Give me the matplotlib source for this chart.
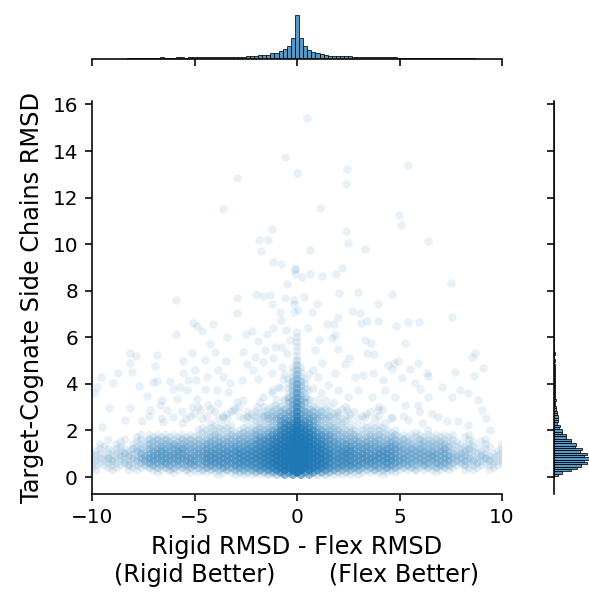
import numpy as np
import matplotlib
matplotlib.use("Agg")
import matplotlib.pyplot as plt
from matplotlib.colors import to_rgba

# dense band near the bottom: number of points per cell, one base-36 digit per cell
# even rows: y = 0.2 .. 3.0, cells at x = -10.0, -9.6, ..., 10.0
# odd rows : y = 0.1 .. 2.9, cells at x = -9.8, -9.4, ..., 9.8
# (cells at |x| <= 0.4 are zero here, they are listed in the centre columns below)
even_y = [0.2, 0.4, 0.6, 0.8, 1.0, 1.2, 1.4, 1.6, 1.8, 2.0, 2.2, 2.4, 2.6, 2.8, 3.0]
odd_y = [0.1, 0.3, 0.5, 0.7, 0.9, 1.1, 1.3, 1.5, 1.7, 1.9, 2.1, 2.3, 2.5, 2.7, 2.9]
even_x = np.linspace(-10.0, 10.0, 51)
odd_x = np.linspace(-9.8, 9.8, 50)

even_rows = [
    "0000000010 1011111122 3347 000 6432211111 10000100000000",
    "1011011222 2222334344 569c 000 b965443334 32212221011010",
    "1111212334 3343555566 68be 000 ca75655545 43333332212111",
    "1121123444 4443555566 78be 000 ca76655555 44333332221211",
    "1111213344 4434555566 68be 000 ca75655455 43333332211111",
    "0111122333 3433444455 67ad 000 b965544444 43332231121101",
    "0101011222 3222333334 568c 000 a854433333 32222221110101",
    "0010101222 1222222233 457a 000 9643332222 22121111010100",
    "0000001111 1111121222 3358 000 7542221221 21111111010000",
    "0000000000 0001111111 2237 000 6322111111 10001000000000",
    "0000000000 0000011101 1125 000 4221111110 00000000000000",
    "0000000000 0000000000 1124 000 3111100000 00000000000000",
    "0000000100 0010101011 1223 000 3221101010 01000000000000",
    "0000000000 0100010101 1122 000 2211010100 00010000000000",
    "0000000000 0001000010 0112 000 2110100010 00000000000000",
]
odd_rows = [
    "0000000000 0000010111 1237 00 6221111001 00000000000000",
    "1010110112 1212223333 569d 00 c854333232 21121111011010",
    "1111212333 3343444556 79dh 00 gc85665444 43323232121111",
    "1121123444 4444555566 79dh 00 gc85665555 54333333222121",
    "1112213444 4444555566 79dh 00 gc85665555 53333433221211",
    "1011121343 4333445556 79dh 00 gb75664445 43333332121101",
    "0101011233 3333343444 67bf 00 ea64454433 43222222111010",
    "0001011222 2222333333 569d 00 c854333332 32212221101100",
    "0000010111 1111222222 457c 00 b643222222 21111111010000",
    "0000000000 0001111122 2359 00 9432221111 10010000000000",
    "0000000000 0001111011 2237 00 6322110111 00000000000000",
    "0000000000 0000100000 1116 00 5211100000 00000000000000",
    "0000000010 0101011011 1234 00 4321111010 10000000000000",
    "0000000000 0010001001 1123 00 3211010100 00000100000000",
    "0000000000 0000100100 0112 00 2110100001 00000000000000",
]

# centre columns (x = 0 and +-0.4 on even rows, x = +-0.2 on odd rows), incl. the streak
zero_y = [0.2, 0.4, 0.6, 0.8, 1.0, 1.2, 1.4, 1.6, 1.8, 2.0, 2.2, 2.4, 2.6, 2.8, 3.0, 3.2,
          3.4, 3.6, 3.8, 4.0, 4.2, 4.4, 4.6, 4.8, 5.0, 5.2, 5.4, 5.6, 5.8, 6.0, 6.2]
zero_n = [25, 70, 100, 110, 105, 85, 62, 45, 33, 24, 17, 12, 10, 8, 7, 6,
          5, 5, 4, 4, 3, 3, 2, 2, 2, 1, 1, 1, 1, 1, 1]
four_n = [6, 18, 27, 30, 28, 24, 19, 15, 12, 9, 7, 5, 3, 3, 2, 2,
          2, 1, 1, 1, 1, 0, 0, 0, 0, 0, 0, 0, 0, 0, 0]
two_y = [0.1, 0.3, 0.5, 0.7, 0.9, 1.1, 1.3, 1.5, 1.7, 1.9, 2.1, 2.3, 2.5, 2.7,
         2.9, 3.1, 3.3, 3.5, 3.7, 3.9, 4.1, 4.3, 4.5, 4.7]
two_n = [8, 30, 45, 50, 50, 42, 32, 24, 18, 13, 10, 7, 4, 4,
         3, 3, 3, 2, 2, 2, 2, 1, 1, 1]

# wings of the V above the band
wing_x = [-1.0, -0.6, 0.6, 1.0, -0.8, 0.8, -0.6, 0.6, -1.8, 1.8, -1.2, 1.2]
wing_y = [3.3, 3.3, 3.3, 3.3, 3.8, 3.8, 4.4, 4.4, 3.2, 3.2, 3.6, 3.6]
wing_n = [1, 2, 2, 1, 1, 1, 1, 1, 1, 1, 1, 1]

# single scattered points
out_x = [-0.57, -0.02, -2.91, -3.62, -1.23, -1.84, -1.4, -1.77, -1.19, -0.8, -0.08, -0.08,
         -0.11, -0.5, -2.0, -1.67, -1.32, -2.94, -5.9, -0.59, -0.15,
         0.47, 2.45, 5.4, 2.39, 1.12, 4.98, 5.06, 2.37, 2.5, 3.3, 6.37, 0.62, 0.23, 0.63,
         1.2, 1.89, 2.2, 7.51, 0.36, 2.05, 2.96, 4.65,
         -1.24, -2.94, -5.09, -4.86, -4.11, -4.65, -5.9, -3.4, -2.49, -2.21, -1.89, -1.48,
         -1.16, -0.8, -0.54, -0.34, -0.75, -0.15, -0.15, -0.83, -8.15, -7.85, -8.15, -8.07,
         -6.85, -6.93, -8.72, -9.56, -8.99, -9.77, -9.9, -9.53, -9.15, -8.15, -7.69, -7.33,
         -7.04, -6.85, -6.6, -6.2, -6.07, -5.84, -5.71, -5.58, -5.58, -5.3, -5.38, -5.14,
         -4.98, -4.93, -4.86, -4.49, -4.41, -4.49, -4.24, -4.0, -3.84, -3.92, -3.59, -3.46,
         -3.35, -3.27, -2.94, -2.7, -2.62, -2.46, -2.13, -2.05, -1.89, -1.64, -1.56, -1.24,
         -1.07, -1.19, -0.75, -0.67, -0.91, -0.5, -7.58, -8.39, -7.17, -6.68, -6.36, -6.03,
         -5.14, -4.73, -4.33, -3.84, -3.59, -3.11, -2.62, -2.46, -1.97, -1.64, -1.24, -1.48,
         -1.07, -5.63, -6.52,
         0.96, 0.71, 0.03, 3.97, 2.67, 3.07, 3.4, 3.11, 3.97, 4.81, 5.43, 5.95, 7.58, 2.02,
         1.82, 0.55, 1.07, 1.69, 2.02, 3.32, 3.61, 3.4, 3.77, 5.27, 2.54, 2.34, 3.24, 3.72,
         4.45, 4.75, 4.94, 4.62, 5.92, 5.51, 6.33, 6.41, 7.71, 8.68, 8.52, 9.09, 8.65, 4.21,
         5.1, 5.76, 6.0, 7.06, 7.54, 7.95, 8.36, 8.81, 9.01, 7.87, 7.3, 9.2, 1.53, 2.02,
         2.99, 2.5, 3.64, 4.29, 4.78, 5.27, 5.92, 6.41, 6.89, 2.42, 3.32, 3.97, 4.62, 1.85,
         1.45, 0.88, 1.2, 1.85, 1.04, 1.37, 1.93, 0.55, 0.8, 2.83, 4.29, 5.43, 6.08, 8.36, 9.41]
out_y = [13.74, 13.06, 12.84, 11.49, 10.64, 10.2, 10.2, 9.71, 9.25, 9.17, 8.95, 8.95,
         8.71, 8.28, 7.88, 7.76, 7.8, 7.67, 7.6, 7.67, 7.6,
         15.41, 13.21, 13.41, 12.57, 11.55, 11.25, 10.84, 10.55, 10.07, 9.8, 10.14, 9.75, 8.6, 8.7,
         8.62, 8.74, 8.98, 8.34, 7.73, 7.91, 7.95, 7.88,
         7.45, 7.05, 6.62, 6.48, 6.59, 6.28, 6.16, 6.02, 6.13, 6.28, 5.85, 6.16,
         6.38, 6.74, 6.31, 5.88, 5.59, 7.45, 7.09, 7.09, 5.31, 5.2, 4.9, 4.52,
         5.23, 4.76, 4.48, 4.3, 4.02, 3.87, 3.59, 2.16, 2.95, 2.95, 3.9, 3.47,
         4.07, 4.13, 3.3, 4.13, 3.76, 3.37, 3.87, 4.48, 4.99, 4.16, 3.73, 5.31,
         4.59, 4.16, 3.33, 5.02, 4.3, 3.8, 5.73, 5.38, 4.59, 3.73, 4.3, 4.99,
         3.66, 4.02, 3.23, 4.16, 5.38, 4.85, 4.59, 5.16, 4.23, 4.95, 5.45, 4.45,
         5.59, 5.09, 4.73, 4.23, 3.87, 5.31, 2.42, 2.44, 2.87, 3.09, 2.87, 2.59,
         3.0, 2.87, 3.09, 3.16, 2.59, 2.87, 3.3, 2.59, 3.0, 3.45, 3.73, 2.66,
         3.09, 2.3, 2.37,
         7.42, 7.09, 7.16, 7.42, 7.14, 7.05, 6.71, 6.62, 6.71, 6.48, 6.66, 6.66, 6.88, 6.88,
         6.56, 6.42, 5.88, 5.95, 5.48, 5.88, 5.76, 5.33, 5.28, 5.76, 5.09, 4.85, 4.37, 4.48,
         4.8, 4.9, 4.99, 4.66, 4.9, 4.66, 4.48, 4.33, 4.52, 5.33, 5.16, 4.7, 4.33, 4.16,
         4.27, 4.02, 3.8, 3.87, 3.42, 3.73, 3.59, 3.3, 2.87, 2.4, 2.4, 2.52, 3.95, 3.73,
         3.73, 3.45, 3.45, 3.73, 3.45, 3.09, 3.09, 3.45, 2.59, 2.87, 2.59, 2.87, 2.59, 6.09,
         6.59, 5.45, 4.88, 4.45, 4.3, 3.3, 2.73, 3.73, 4.59, 4.3, 2.3, 2.44, 2.3, 2.23, 2.02]

# ---- collect everything as (x, y, count)
xs, ys, ns = [], [], []
for rows, row_y, row_x in [(even_rows, even_y, even_x), (odd_rows, odd_y, odd_x)]:
    for s, yy in zip(rows, row_y):
        s = s.replace(" ", "")
        assert len(s) == len(row_x), (yy, len(s))
        for xx, ch in zip(row_x, s):
            k = int(ch, 36)
            if k:
                xs.append(round(xx, 1)); ys.append(yy); ns.append(k)
for yy, k0, k4 in zip(zero_y, zero_n, four_n):
    xs.append(0.0); ys.append(yy); ns.append(k0)
    if k4:
        xs += [-0.4, 0.4]; ys += [yy, yy]; ns += [k4, k4]
for yy, k2 in zip(two_y, two_n):
    xs += [-0.2, 0.2]; ys += [yy, yy]; ns += [k2, k2]
xs += wing_x; ys += wing_y; ns += wing_n
n_grid = len(xs)
xs += out_x; ys += out_y; ns += [1] * len(out_x)

xs = np.array(xs); ys = np.array(ys); ns = np.array(ns, dtype=float)

blue = to_rgba("tab:blue")
a1 = 0.1
cols = np.tile(blue, (n_grid, 1))
cols[:, 3] = 1 - (1 - a1) ** ns[:n_grid]

fig = plt.figure(figsize=(589 / 144, 594 / 144), dpi=144)
ax = fig.add_axes([92 / 589, 100 / 594, 410 / 589, 393 / 594])
ax_top = fig.add_axes([92 / 589, 535 / 594, 410 / 589, 59 / 594], sharex=ax)
ax_right = fig.add_axes([554 / 589, 100 / 594, 35 / 589, 393 / 594], sharey=ax)

ax.scatter(xs[:n_grid], ys[:n_grid], s=18, c=cols, linewidths=0)
ax.scatter(out_x, out_y, s=18, color="tab:blue", alpha=a1, edgecolors="white", linewidths=0.4)

ax.set_xlim(-10, 10)
ax.set_ylim(-0.73, 16.15)
ax.set_xticks([-10, -5, 0, 5, 10])
ax.set_yticks(range(0, 17, 2))
ax.spines[["top", "right"]].set_visible(False)
ax.set_xlabel("Rigid RMSD - Flex RMSD\n(Rigid Better)       (Flex Better)", fontsize=12)
ax.set_ylabel("Target-Cognate Side Chains RMSD", fontsize=12)

# marginals
xbins = np.arange(-10.1, 10.11, 0.2)
h, _, _ = ax_top.hist(xs, bins=xbins, weights=ns, color="tab:blue", alpha=0.75,
                      edgecolor="black", linewidth=0.5)
ax_top.set_ylim(0, h.max() * 59 / 44)
ybins = np.arange(-0.05, 16.2, 0.1)
hy, _, _ = ax_right.hist(ys, bins=ybins, weights=ns, orientation="horizontal",
                         color="tab:blue", alpha=0.75, edgecolor="black", linewidth=0.5)
ax_right.set_xlim(0, hy.max() * 1.0)

ax_top.spines[["top", "left", "right"]].set_visible(False)
ax_top.tick_params(axis="x", labelbottom=False)
ax_top.tick_params(axis="y", left=False, labelleft=False)
ax_right.spines[["top", "right", "bottom"]].set_visible(False)
ax_right.tick_params(axis="y", labelleft=False)
ax_right.tick_params(axis="x", bottom=False, labelbottom=False)

fig.savefig("out.png", dpi=144)
